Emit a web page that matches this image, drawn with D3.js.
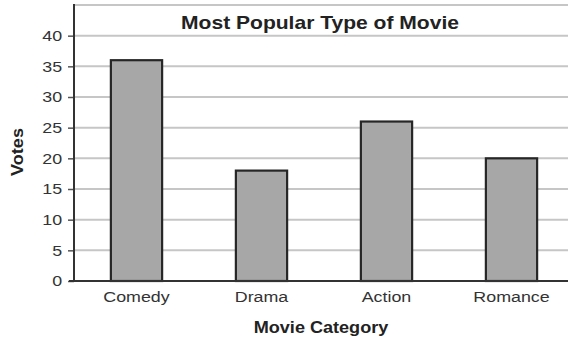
<!DOCTYPE html>
<html>
<head>
<meta charset="utf-8">
<script src="https://cdn.jsdelivr.net/npm/d3@7"></script>
<style>
  html, body { margin: 0; padding: 0; background: #fff; }
  svg { display: block; font-family: "Liberation Sans", Arial, sans-serif; }
</style>
</head>
<body>
<svg id="chart" width="568" height="342"></svg>
<script>
// Votes per movie category
const categories = ["Comedy", "Drama", "Action", "Romance"];
const votes = [36, 18, 26, 20];
const yTicks = [0, 5, 10, 15, 20, 25, 30, 35, 40];
const yMax = 45;

const svg = d3.select("#chart");
const margin = { left: 74, top: 5, bottom: 61 };
const height = 342;
const plotRight = 574;

// the lettering is set wide, so text is stretched along its baseline
const wide = 1.19;

const x = d3.scaleBand()
  .domain(categories)
  .range([margin.left, plotRight])
  .paddingInner(0.59)
  .paddingOuter(0.295);

const y = d3.scaleLinear()
  .domain([0, yMax])
  .range([height - margin.bottom, margin.top]);

// horizontal gridlines (including the top frame line)
svg.append("g")
  .selectAll("line")
  .data(yTicks.slice(1).concat([yMax]))
  .join("line")
  .attr("x1", margin.left)
  .attr("x2", 568)
  .attr("y1", d => y(d))
  .attr("y2", d => y(d))
  .attr("stroke", "#c6c6c6")
  .attr("stroke-width", 2);

// bars
svg.append("g")
  .selectAll("rect")
  .data(categories)
  .join("rect")
  .attr("x", d => x(d))
  .attr("y", (d, i) => y(votes[i]))
  .attr("width", x.bandwidth())
  .attr("height", (d, i) => y(0) - y(votes[i]))
  .attr("fill", "#a7a7a7")
  .attr("stroke", "#262626")
  .attr("stroke-width", 2.2);

// y axis
const yAxis = svg.append("g")
  .attr("transform", `translate(${margin.left},0)`)
  .call(d3.axisLeft(y).tickValues(yTicks).tickSize(6).tickPadding(4));
yAxis.select(".domain").remove();
yAxis.append("line")
  .attr("x1", 0).attr("x2", 0)
  .attr("y1", y(yMax) - 1).attr("y2", y(0) + 1)
  .attr("stroke", "#333").attr("stroke-width", 2);
yAxis.selectAll(".tick line").attr("stroke", "#555").attr("stroke-width", 1.5);
yAxis.selectAll(".tick text")
  .attr("fill", "#333")
  .attr("transform", `scale(${wide},1)`)
  .style("font-size", "15px")
  .style("font-family", "Liberation Sans, Arial, sans-serif");

// x axis baseline and labels
const xAxis = svg.append("g")
  .attr("transform", `translate(0,${y(0)})`)
  .call(d3.axisBottom(x).tickSize(0).tickPadding(10));
xAxis.select(".domain").remove();
xAxis.append("line")
  .attr("x1", margin.left - 5).attr("x2", 568)
  .attr("y1", 0).attr("y2", 0)
  .attr("stroke", "#333").attr("stroke-width", 2);
xAxis.selectAll(".tick text")
  .attr("fill", "#333")
  .attr("transform", `scale(${wide},1)`)
  .style("font-size", "15px")
  .style("font-family", "Liberation Sans, Arial, sans-serif");

// chart title
svg.append("text")
  .attr("transform", "translate(320,23) scale(1.17,1)")
  .attr("text-anchor", "middle")
  .attr("dominant-baseline", "central")
  .attr("font-weight", "bold")
  .attr("font-size", "18px")
  .attr("fill", "#222")
  .text("Most Popular Type of Movie");

// axis titles
svg.append("text")
  .attr("transform", "translate(321,328) scale(1.13,1)")
  .attr("text-anchor", "middle")
  .attr("dominant-baseline", "central")
  .attr("font-weight", "bold")
  .attr("font-size", "16px")
  .attr("fill", "#222")
  .text("Movie Category");

svg.append("text")
  .attr("transform", "translate(18,152) rotate(-90) scale(1.13,1)")
  .attr("text-anchor", "middle")
  .attr("dominant-baseline", "central")
  .attr("font-weight", "bold")
  .attr("font-size", "16px")
  .attr("fill", "#222")
  .text("Votes");
</script>
</body>
</html>
